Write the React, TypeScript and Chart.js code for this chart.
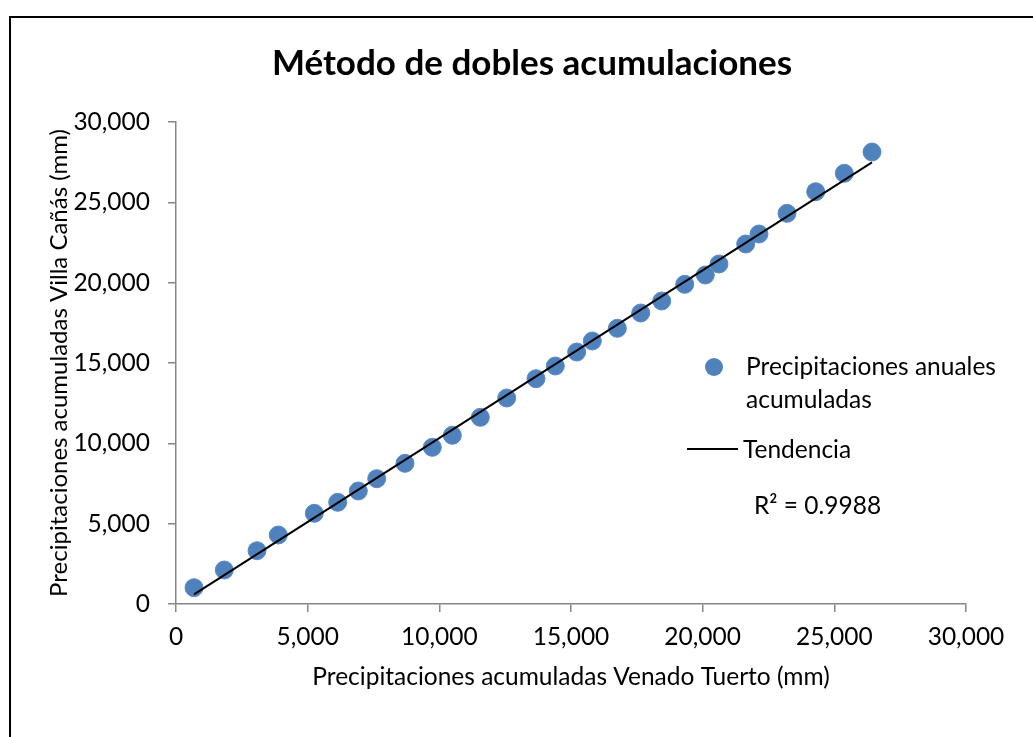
import React, { useEffect, useRef } from "react";
import { Chart, registerables } from "chart.js";

Chart.register(...registerables);

const FONT = "Lato, 'Noto Sans', sans-serif";

// Cumulative precipitation, Venado Tuerto (x) vs Villa Cañás (y), mm
const venadoTuerto = [
  684, 1834, 3076, 3885, 5252, 6141, 6923, 7622, 8696, 9733,
  10493, 11556, 12558, 13671, 14404, 15216, 15809, 16759, 17647, 18445,
  19318, 20100, 20620, 21634, 22139, 23203, 24293, 25379, 26430,
];
const villaCanas = [
  1015, 2116, 3317, 4295, 5645, 6330, 7033, 7799, 8757, 9753,
  10500, 11620, 12821, 14023, 14813, 15684, 16369, 17160, 18112, 18859,
  19898, 20477, 21162, 22406, 23029, 24317, 25662, 26807, 28133,
];
// Trend line end points
const trendX = [684, 26430];
const trendY = [604, 27492];

const axisMin = 0;
const axisMax = 30000;
const axisStep = 5000;

const chartTitle = "Método de dobles acumulaciones";
const xTitle = "Precipitaciones acumuladas Venado Tuerto (mm)";
const yTitle = "Precipitaciones acumuladas Villa Cañás (mm)";
const legendPoints = ["Precipitaciones anuales", "acumuladas"];
const legendTrend = "Tendencia";
const rSquared = "R² = 0.9988";

export default function App() {
  const ref = useRef<HTMLCanvasElement | null>(null);

  useEffect(() => {
    if (!ref.current) return;
    const axisColor = "#868686";
    const tickFont = { family: FONT, size: 24.5 };
    const chart = new Chart(ref.current, {
      type: "scatter",
      data: {
        datasets: [
          {
            label: legendTrend,
            data: trendX.map((x, i) => ({ x, y: trendY[i] })),
            showLine: true,
            borderColor: "#000000",
            borderWidth: 2,
            pointRadius: 0,
            order: 0,
          },
          {
            label: legendPoints.join(" "),
            data: venadoTuerto.map((x, i) => ({ x, y: villaCanas[i] })),
            backgroundColor: "#4F81BD",
            borderColor: "#5a8ac4",
            borderWidth: 1,
            pointRadius: 9,
            order: 1,
          },
        ],
      },
      options: {
        responsive: false,
        animation: false,
        layout: { padding: { top: 122, left: 0, right: 67, bottom: 0 } },
        plugins: {
          legend: { display: false },
          tooltip: { enabled: false },
          title: { display: false },
        },
        scales: {
          x: {
            type: "linear",
            position: "bottom",
            min: axisMin,
            max: axisMax,
            ticks: {
              stepSize: axisStep,
              color: "#000000",
              font: tickFont,
              padding: 10,
              maxRotation: 0,
              autoSkip: false,
            },
            grid: {
              drawOnChartArea: false,
              drawTicks: true,
              tickLength: 8,
              color: axisColor,
              lineWidth: 1.5,
            },
            border: { display: true, color: axisColor, width: 1.5 },
            title: {
              display: true,
              text: xTitle,
              color: "#000000",
              font: tickFont,
              padding: { top: 0, bottom: 45 },
            },
            afterFit: (s: any) => {
              s.height = 133;
            },
          },
          y: {
            type: "linear",
            min: axisMin,
            max: axisMax,
            ticks: {
              stepSize: axisStep,
              color: "#000000",
              font: tickFont,
              padding: 18,
            },
            grid: {
              drawOnChartArea: false,
              drawTicks: true,
              tickLength: 8,
              color: axisColor,
              lineWidth: 1.5,
            },
            border: { display: true, color: axisColor, width: 1.5 },
            title: {
              display: true,
              text: yTitle,
              color: "#000000",
              font: { family: FONT, size: 24 },
              padding: { top: 45, bottom: 0 },
            },
            afterFit: (s: any) => {
              s.width = 176;
            },
          },
        },
      },
    });
    return () => chart.destroy();
  }, []);

  const legendText: React.CSSProperties = {
    position: "absolute",
    fontFamily: FONT,
    fontSize: 24.5,
    color: "#000",
    whiteSpace: "nowrap",
    lineHeight: "33px",
  };

  return (
    <div
      style={{
        position: "fixed",
        left: 0,
        top: 0,
        width: 1033,
        height: 737,
        overflow: "hidden",
        background: "#fff",
      }}
    >
      <canvas
        ref={ref}
        width={1033}
        height={737}
        style={{ position: "absolute", left: 0, top: 0, width: 1033, height: 737 }}
      />
      <div
        style={{
          position: "absolute",
          left: 9,
          top: 16,
          width: 1100,
          height: 800,
          border: "2px solid #000",
          pointerEvents: "none",
        }}
      />
      <div
        style={{
          position: "absolute",
          left: 0,
          top: 40,
          width: 1064,
          textAlign: "center",
          fontFamily: FONT,
          fontWeight: "bold",
          fontSize: 35,
          lineHeight: "42px",
          color: "#000",
          whiteSpace: "nowrap",
        }}
      >
        {chartTitle}
      </div>
      <div
        style={{
          position: "absolute",
          left: 705,
          top: 358,
          width: 18,
          height: 18,
          borderRadius: "50%",
          background: "#4F81BD",
        }}
      />
      <div style={{ ...legendText, left: 746, top: 349 }}>
        {legendPoints[0]}
        <br />
        {legendPoints[1]}
      </div>
      <div
        style={{
          position: "absolute",
          left: 687,
          top: 448,
          width: 51,
          height: 2,
          background: "#000",
        }}
      />
      <div style={{ ...legendText, left: 743, top: 432 }}>{legendTrend}</div>
      <div style={{ ...legendText, left: 754, top: 488 }}>{rSquared}</div>
    </div>
  );
}
